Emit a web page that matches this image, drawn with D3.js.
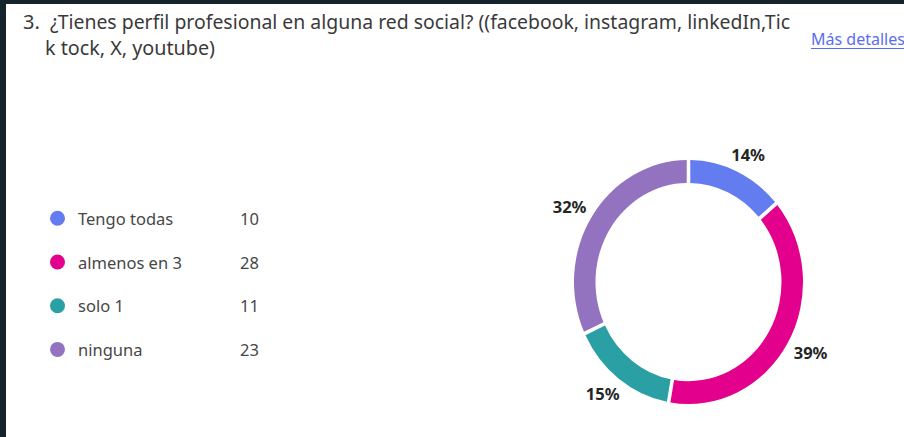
<!DOCTYPE html>
<html>
  <head>
    <meta charset="utf-8">
    <style>
      body { margin: 0; background: #fff; }
      svg { display: block; font-family: "Noto Sans", "Open Sans", sans-serif; }
    </style>
  </head>
  <body>
    <script src="https://d3js.org/d3.v7.min.js"></script>
    <div id="chart"></div>
    <script>
      // Answers and counts
      var categories = ["Tengo todas", "almenos en 3", "solo 1", "ninguna"];
      var counts = [10, 28, 11, 23];
      var colors = ["#637CEF", "#E3008C", "#2AA0A4", "#9373C0"];
      var titleLines = ["¿Tienes perfil profesional en alguna red social? ((facebook, instagram, linkedIn,Tic",
                        "k tock, X, youtube)"];

      var width = 904, height = 437;

      var svg = d3.select("#chart")
                  .append("svg")
                    .attr("width", width)
                    .attr("height", height);

      // dark frame on the left and top
      svg.append("rect").attr("x", 0).attr("y", 0).attr("width", 6).attr("height", height).attr("fill", "#15232d");
      svg.append("rect").attr("x", 0).attr("y", 0).attr("width", width).attr("height", 4).attr("fill", "#15232d");

      // Title
      svg.append("text")
          .attr("x", 23).attr("y", 29)
          .attr("font-size", 20).attr("fill", "#3a3a3a")
          .text("3.");
      svg.append("text")
          .attr("x", 50).attr("y", 29)
          .attr("font-size", 20).attr("fill", "#3a3a3a")
          .attr("textLength", 740).attr("lengthAdjust", "spacingAndGlyphs")
          .text(titleLines[0]);
      svg.append("text")
          .attr("x", 45).attr("y", 55)
          .attr("font-size", 20).attr("fill", "#3a3a3a")
          .attr("textLength", 170).attr("lengthAdjust", "spacingAndGlyphs")
          .text(titleLines[1]);

      // "Más detalles" link
      svg.append("text")
          .attr("x", 811).attr("y", 45)
          .attr("font-size", 16).attr("fill", "#5a6ef0")
          .text("Más detalles");
      svg.append("line")
          .attr("x1", 811).attr("x2", width)
          .attr("y1", 48.5).attr("y2", 48.5)
          .attr("stroke", "#5a6ef0").attr("stroke-width", 1.2);

      // Legend
      var ly = d3.scaleLinear().domain([0, 1]).range([218.3, 262]);
      var legend = svg.selectAll(".legend")
          .data(categories)
        .enter().append("g")
          .attr("class", "legend")
          .attr("transform", function(d, i) { return "translate(0," + ly(i) + ")"; });
      legend.append("circle")
          .attr("cx", 57.5).attr("r", 7.5)
          .attr("fill", function(d, i) { return colors[i]; });
      legend.append("text")
          .attr("x", 78).attr("y", 6.5)
          .attr("font-size", 16.5).attr("fill", "#474747")
          .text(function(d) { return d; });
      legend.append("text")
          .attr("x", 240).attr("y", 6.5)
          .attr("font-size", 16.5).attr("fill", "#474747")
          .text(function(d, i) { return counts[i]; });

      // Donut
      var cx = 688.5, cy = 282, sy = 1.066;
      var outerR = 114.5, innerR = 93, labelR = 141;
      var total = d3.sum(counts);

      var pie = d3.pie().sort(null).value(function(d) { return d; });
      var arcs = pie(counts);
      var arc = d3.arc().innerRadius(innerR).outerRadius(outerR).padAngle(0.024);
      var labelArc = d3.arc().innerRadius(labelR).outerRadius(labelR);

      svg.append("g")
          .attr("transform", "translate(" + cx + "," + cy + ") scale(1," + sy + ")")
        .selectAll("path")
          .data(arcs)
        .enter().append("path")
          .attr("d", arc)
          .attr("fill", function(d, i) { return colors[i]; });

      svg.selectAll(".pct")
          .data(arcs)
        .enter().append("text")
          .attr("class", "pct")
          .attr("x", function(d) { return cx + labelArc.centroid(d)[0]; })
          .attr("y", function(d) { return cy + labelArc.centroid(d)[1]; })
          .attr("text-anchor", "middle")
          .attr("dominant-baseline", "central")
          .attr("font-size", 16.5).attr("font-weight", "bold").attr("fill", "#252525")
          .text(function(d) { return Math.round(d.value / total * 100) + "%"; });
    </script>
  </body>
</html>
